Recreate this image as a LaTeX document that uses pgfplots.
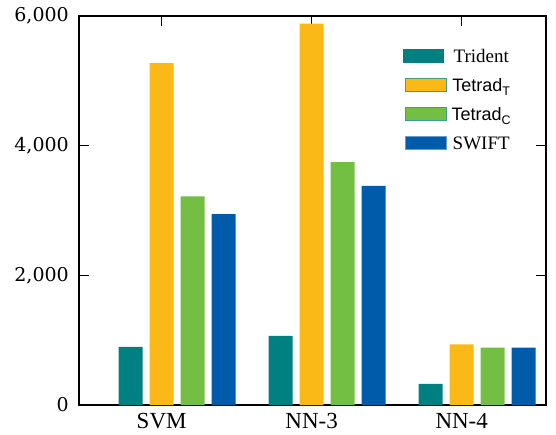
\documentclass[border=0pt]{standalone}
\usepackage{fontspec}
\setmainfont{Liberation Serif}
\newfontfamily\dvs{DejaVu Serif}
\newfontfamily\lsans{Liberation Sans}
\usepackage{pgfplots}
\pgfplotsset{compat=1.18}
\definecolor{cTri}{HTML}{008080}
\definecolor{cTT}{HTML}{FBB917}
\definecolor{cTC}{HTML}{72BF44}
\definecolor{cSW}{HTML}{005BAA}
\definecolor{cEdge}{HTML}{3A9E96}
\newcommand{\sub}[1]{\raisebox{-4pt}{\fontsize{12.5}{12.5}\selectfont #1}}
\begin{document}
\begin{tikzpicture}[x=1pt,y=1pt]
\path[use as bounding box] (-79pt,-29pt) rectangle (477pt,405pt);
\begin{axis}[
  at={(0pt,0pt)}, anchor=south west,
  scale only axis, width=467pt, height=389pt,
  xmin=-0.551, xmax=2.562, ymin=0, ymax=6000,
  ybar, bar width=0.16,
  xtick={0,1,2}, xticklabels={SVM,NN-3,NN-4},
  ytick={0,2000,4000,6000}, yticklabels={0,{2,000},{4,000},{6,000}},
  scaled y ticks=false,
  tick align=inside, major tick length=10pt,
  every tick/.style={black, line width=1.6pt},
  axis line style={line width=1.2pt},
  yticklabel style={font=\dvs\fontsize{19}{19}\selectfont, inner sep=0pt, xshift=-10pt},
  xticklabel style={font=\fontsize{23}{23}\selectfont, inner sep=0pt, yshift=-8.5pt},
  legend style={at={(axis description cs:0.694,0.915)}, anchor=north west,
    draw=none, fill=none, inner sep=0pt, column sep=5pt, row sep=11pt,
    nodes={inner sep=0pt, text height=13pt, text depth=5pt, anchor=base}},
  legend cell align=left,
]
\addplot[fill=cTri, draw=none, bar shift=0pt,
  legend image code/.code={\fill[cTri] (-2pt,-1pt) rectangle (39pt,13pt);}]
  coordinates {(-0.2067,895) (0.7933,1065) (1.7933,324)};
\addlegendentry{\fontsize{19}{19}\selectfont Trident}
\addplot[fill=cTT, draw=none, bar shift=0pt,
  legend image code/.code={\filldraw[fill=cTT, draw=cEdge, line width=0.8pt] (0pt,-0.5pt) rectangle (41pt,12.5pt);}]
  coordinates {(0,5275) (1,5881) (2,937)};
\addlegendentry{\lsans\fontsize{18}{18}\selectfont Tetrad\sub{T}}
\addplot[fill=cTC, draw=none, bar shift=0pt,
  legend image code/.code={\filldraw[fill=cTC, draw=cEdge, line width=0.8pt] (0pt,-0.5pt) rectangle (41pt,12.5pt);}]
  coordinates {(0.2067,3216) (1.2067,3747) (2.2067,885)};
\addlegendentry{\lsans\fontsize{18}{18}\selectfont Tetrad\sub{C}}
\addplot[fill=cSW, draw=none, bar shift=0pt,
  legend image code/.code={\filldraw[fill=cSW, draw=cSW!60!white, line width=0.6pt] (0pt,-0.5pt) rectangle (41pt,12.5pt);}]
  coordinates {(0.4133,2944) (1.4133,3381) (2.4133,885)};
\addlegendentry{\fontsize{19}{19}\selectfont SWIFT}
\end{axis}
\end{tikzpicture}
\end{document}
